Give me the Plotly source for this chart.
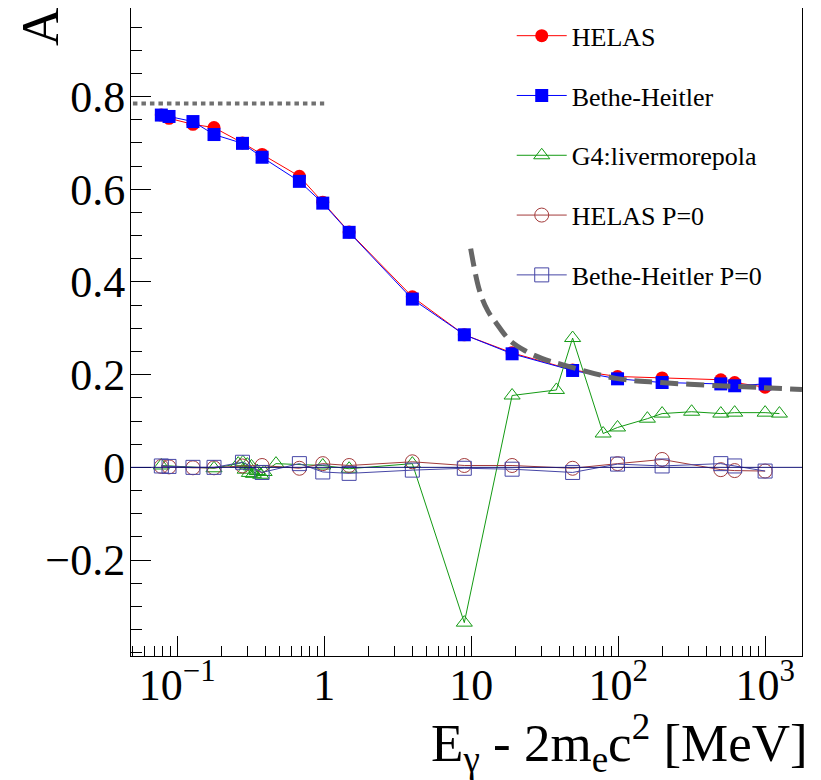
import plotly.graph_objects as go
import numpy as np

# ---- data ----
energy = [0.078, 0.088, 0.128, 0.178, 0.278, 0.378, 0.678, 0.978, 1.478,
          3.978, 8.978, 18.98, 48.98, 98.98, 199.0, 499.0, 620.0, 999.0]
helas = [0.760, 0.753, 0.740, 0.733, 0.700, 0.675, 0.628, 0.572, 0.508,
         0.368, 0.286, 0.247, 0.210, 0.196, 0.193, 0.189, 0.183, 0.173]
bethe_heitler = [0.760, 0.757, 0.746, 0.718, 0.699, 0.669, 0.617, 0.570, 0.507,
                 0.363, 0.286, 0.245, 0.209, 0.191, 0.183, 0.180, 0.176, 0.180]
helas_p0 = [0.002, 0.001, -0.001, -0.001, 0.003, 0.004, -0.002, 0.008, 0.004,
            0.012, 0.004, 0.004, -0.002, 0.008, 0.017, -0.005, -0.007, -0.008]
bethe_heitler_p0 = [0.003, 0.002, 0.000, 0.000, 0.011, -0.011, 0.008, -0.010, -0.013,
                    -0.006, -0.002, -0.004, -0.011, 0.007, 0.003, 0.008, 0.003, -0.008]

g4_energy = [0.078, 0.178, 0.26, 0.28, 0.29, 0.30, 0.31, 0.32, 0.33, 0.35, 0.37, 0.39,
             0.47, 0.978, 1.478, 3.978, 8.978, 18.98, 38.0, 48.98, 79.0, 98.98,
             158.0, 199.0, 316.0, 499.0, 620.0, 999.0, 1250.0]
g4_livermorepola = [0.004, -0.002, 0.008, 0.011, -0.005, 0.006, -0.012, 0.002, -0.014,
                    -0.008, -0.016, -0.010, 0.008, 0.004, -0.003, 0.008, -0.335, 0.155,
                    0.167, 0.279, 0.073, 0.086, 0.105, 0.116, 0.120, 0.116, 0.118,
                    0.118, 0.116]

# low-energy limit (pi/4) line, read as two end points
low_limit_x = [0.05, 1.0]
low_limit_y = [0.785, 0.785]

# high-energy asymptotic curve
high_curve_x = [9.92, 11.4, 12.95, 14.9, 18.3, 23.1, 30.2, 43.3, 96.4, 195.0, 484.0, 966.0, 1780.0]
high_curve_y = [0.472, 0.381, 0.338, 0.310, 0.274, 0.252, 0.235, 0.220, 0.192, 0.183, 0.176, 0.172, 0.168]

x_tickvals = [0.1, 1, 10, 100, 1000]
x_ticktext = ["10<sup>\u22121</sup>", "1", "10", "10<sup>2</sup>", "10<sup>3</sup>"]
y_tickvals = [-0.2, 0.0, 0.2, 0.4, 0.6, 0.8]
y_ticktext = ["\u22120.2", "0", "0.2", "0.4", "0.6", "0.8"]

FONT = "Liberation Serif"

x_minor = [k * 10.0 ** n for n in range(-2, 4) for k in range(2, 10)]

fig = go.Figure()

fig.add_trace(go.Scatter(
    x=energy, y=helas, name="HELAS", mode="lines+markers", legendgroup="a",
    line=dict(color="#ff0000", width=1),
    marker=dict(symbol="circle", size=13, color="#ff0000")))
fig.add_trace(go.Scatter(
    x=energy, y=bethe_heitler, name="Bethe-Heitler", mode="lines+markers", legendgroup="b",
    line=dict(color="#0000ff", width=1),
    marker=dict(symbol="square", size=13, color="#0000ff")))
fig.add_trace(go.Scatter(
    x=g4_energy, y=g4_livermorepola, name="G4:livermorepola", mode="lines+markers", legendgroup="c",
    line=dict(color="#139a13", width=1),
    marker=dict(symbol="triangle-up-open", size=14, color="#139a13", line=dict(width=1))))
fig.add_trace(go.Scatter(
    x=energy, y=helas_p0, name="HELAS P=0", mode="lines+markers", legendgroup="d",
    line=dict(color="#a33b3b", width=1),
    marker=dict(symbol="circle-open", size=14, color="#a33b3b", line=dict(width=1))))
fig.add_trace(go.Scatter(
    x=energy, y=bethe_heitler_p0, name="Bethe-Heitler P=0", mode="lines+markers", legendgroup="e",
    line=dict(color="#4646a6", width=1),
    marker=dict(symbol="square-open", size=14, color="#4646a6", line=dict(width=1))))

fig.add_trace(go.Scatter(
    x=high_curve_x, y=high_curve_y, mode="lines", showlegend=False, hoverinfo="skip",
    line=dict(color="#666666", width=5, dash="18px,8px", shape="spline", smoothing=1.0)))
fig.add_trace(go.Scatter(
    x=low_limit_x, y=low_limit_y, mode="lines", showlegend=False, hoverinfo="skip",
    line=dict(color="#707070", width=4, dash="4.5px,4px")))

fig.add_shape(type="line", xref="paper", x0=0, x1=1, yref="y", y0=0, y1=0,
              line=dict(color="#141478", width=1))

fig.update_layout(
    width=813, height=772,
    margin=dict(l=123, r=19, t=0, b=124),
    paper_bgcolor="white", plot_bgcolor="white",
    font=dict(family=FONT, color="black"),
    showlegend=True,
    legend=dict(x=0.5674, y=0.9934, xanchor="left", yanchor="top",
                bgcolor="rgba(0,0,0,0)", font=dict(family=FONT, size=26, color="black"),
                tracegroupgap=23, itemwidth=50),
    xaxis=dict(type="log", range=[np.log10(0.0485), np.log10(1780)],
               showline=True, linecolor="black", linewidth=1, mirror=True,
               ticks="inside", ticklen=20, tickwidth=1, tickcolor="black",
               tickvals=x_tickvals, ticktext=x_ticktext, ticklabelstandoff=-10,
               tickfont=dict(family=FONT, size=44, color="black"),
               minor=dict(tickmode="array", tickvals=x_minor, ticks="inside", ticklen=10,
                          tickcolor="black", tickwidth=1, showgrid=False),
               showgrid=False, zeroline=False),
    yaxis=dict(range=[-0.407, 0.991],
               showline=True, linecolor="black", linewidth=1, mirror=True,
               ticks="inside", ticklen=20, tickwidth=1, tickcolor="black",
               tickvals=y_tickvals, ticktext=y_ticktext, ticklabelstandoff=-4,
               tickfont=dict(family=FONT, size=44, color="black"),
               minor=dict(dtick=0.05, tick0=0, ticks="inside", ticklen=11,
                          tickcolor="black", tickwidth=1, showgrid=False),
               showgrid=False, zeroline=False),
    annotations=[
        dict(text="A", xref="paper", yref="paper", x=-0.1356, y=0.9707,
             xanchor="center", yanchor="middle", textangle=-90, showarrow=False,
             font=dict(family=FONT, size=53, color="black")),
        dict(text="E<sub>\u03b3</sub> - 2m<sub>e</sub>c<sup>2</sup> [MeV]", xref="paper", yref="paper",
             x=1.0115, y=-0.1343, xanchor="right", yanchor="middle", showarrow=False,
             font=dict(family=FONT, size=53, color="black")),
    ],
)

fig.write_html("out.html")
